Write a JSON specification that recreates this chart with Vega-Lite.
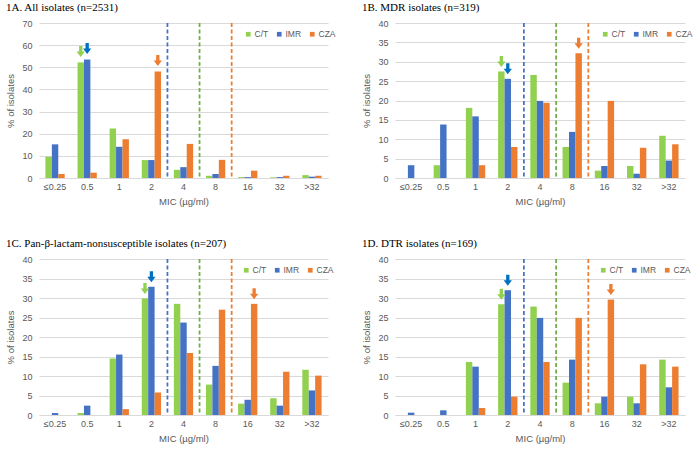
{
  "$schema": "https://vega.github.io/schema/vega-lite/v6.json",
  "background": "white",
  "padding": {"left": 5, "top": 2, "right": 5, "bottom": 2},
  "datasets": {
    "bars": [
      {"panel":"A","mic":"≤0.25","drug":"C/T","pct":9.6},{"panel":"A","mic":"≤0.25","drug":"IMR","pct":15.2},{"panel":"A","mic":"≤0.25","drug":"CZA","pct":1.8},
      {"panel":"A","mic":"0.5","drug":"C/T","pct":52.2},{"panel":"A","mic":"0.5","drug":"IMR","pct":53.5},{"panel":"A","mic":"0.5","drug":"CZA","pct":2.4},
      {"panel":"A","mic":"1","drug":"C/T","pct":22.3},{"panel":"A","mic":"1","drug":"IMR","pct":14.1},{"panel":"A","mic":"1","drug":"CZA","pct":17.5},
      {"panel":"A","mic":"2","drug":"C/T","pct":8.1},{"panel":"A","mic":"2","drug":"IMR","pct":8.1},{"panel":"A","mic":"2","drug":"CZA","pct":48.1},
      {"panel":"A","mic":"4","drug":"C/T","pct":3.7},{"panel":"A","mic":"4","drug":"IMR","pct":4.9},{"panel":"A","mic":"4","drug":"CZA","pct":15.4},
      {"panel":"A","mic":"8","drug":"C/T","pct":1.0},{"panel":"A","mic":"8","drug":"IMR","pct":1.8},{"panel":"A","mic":"8","drug":"CZA","pct":8.2},
      {"panel":"A","mic":"16","drug":"C/T","pct":0.4},{"panel":"A","mic":"16","drug":"IMR","pct":0.4},{"panel":"A","mic":"16","drug":"CZA","pct":3.3},
      {"panel":"A","mic":"32","drug":"C/T","pct":0.3},{"panel":"A","mic":"32","drug":"IMR","pct":0.4},{"panel":"A","mic":"32","drug":"CZA","pct":1.0},
      {"panel":"A","mic":">32","drug":"C/T","pct":1.3},{"panel":"A","mic":">32","drug":"IMR","pct":0.6},{"panel":"A","mic":">32","drug":"CZA","pct":1.0},

      {"panel":"B","mic":"≤0.25","drug":"IMR","pct":3.3},
      {"panel":"B","mic":"0.5","drug":"C/T","pct":3.3},{"panel":"B","mic":"0.5","drug":"IMR","pct":13.8},
      {"panel":"B","mic":"1","drug":"C/T","pct":18.1},{"panel":"B","mic":"1","drug":"IMR","pct":15.9},{"panel":"B","mic":"1","drug":"CZA","pct":3.3},
      {"panel":"B","mic":"2","drug":"C/T","pct":27.5},{"panel":"B","mic":"2","drug":"IMR","pct":25.6},{"panel":"B","mic":"2","drug":"CZA","pct":8.0},
      {"panel":"B","mic":"4","drug":"C/T","pct":26.6},{"panel":"B","mic":"4","drug":"IMR","pct":19.9},{"panel":"B","mic":"4","drug":"CZA","pct":19.4},
      {"panel":"B","mic":"8","drug":"C/T","pct":8.0},{"panel":"B","mic":"8","drug":"IMR","pct":11.9},{"panel":"B","mic":"8","drug":"CZA","pct":32.2},
      {"panel":"B","mic":"16","drug":"C/T","pct":1.9},{"panel":"B","mic":"16","drug":"IMR","pct":3.1},{"panel":"B","mic":"16","drug":"CZA","pct":19.9},
      {"panel":"B","mic":"32","drug":"C/T","pct":3.1},{"panel":"B","mic":"32","drug":"IMR","pct":1.1},{"panel":"B","mic":"32","drug":"CZA","pct":7.8},
      {"panel":"B","mic":">32","drug":"C/T","pct":10.9},{"panel":"B","mic":">32","drug":"IMR","pct":4.5},{"panel":"B","mic":">32","drug":"CZA","pct":8.7},

      {"panel":"C","mic":"≤0.25","drug":"IMR","pct":0.5},
      {"panel":"C","mic":"0.5","drug":"C/T","pct":0.5},{"panel":"C","mic":"0.5","drug":"IMR","pct":2.4},
      {"panel":"C","mic":"1","drug":"C/T","pct":14.5},{"panel":"C","mic":"1","drug":"IMR","pct":15.5},{"panel":"C","mic":"1","drug":"CZA","pct":1.5},
      {"panel":"C","mic":"2","drug":"C/T","pct":29.9},{"panel":"C","mic":"2","drug":"IMR","pct":32.9},{"panel":"C","mic":"2","drug":"CZA","pct":5.8},
      {"panel":"C","mic":"4","drug":"C/T","pct":28.5},{"panel":"C","mic":"4","drug":"IMR","pct":23.7},{"panel":"C","mic":"4","drug":"CZA","pct":15.9},
      {"panel":"C","mic":"8","drug":"C/T","pct":7.8},{"panel":"C","mic":"8","drug":"IMR","pct":12.6},{"panel":"C","mic":"8","drug":"CZA","pct":27.0},
      {"panel":"C","mic":"16","drug":"C/T","pct":2.9},{"panel":"C","mic":"16","drug":"IMR","pct":3.9},{"panel":"C","mic":"16","drug":"CZA","pct":28.5},
      {"panel":"C","mic":"32","drug":"C/T","pct":4.3},{"panel":"C","mic":"32","drug":"IMR","pct":2.4},{"panel":"C","mic":"32","drug":"CZA","pct":11.1},
      {"panel":"C","mic":">32","drug":"C/T","pct":11.6},{"panel":"C","mic":">32","drug":"IMR","pct":6.3},{"panel":"C","mic":">32","drug":"CZA","pct":10.1},

      {"panel":"D","mic":"≤0.25","drug":"IMR","pct":0.6},
      {"panel":"D","mic":"0.5","drug":"IMR","pct":1.2},
      {"panel":"D","mic":"1","drug":"C/T","pct":13.6},{"panel":"D","mic":"1","drug":"IMR","pct":12.4},{"panel":"D","mic":"1","drug":"CZA","pct":1.8},
      {"panel":"D","mic":"2","drug":"C/T","pct":28.4},{"panel":"D","mic":"2","drug":"IMR","pct":32.0},{"panel":"D","mic":"2","drug":"CZA","pct":4.7},
      {"panel":"D","mic":"4","drug":"C/T","pct":27.8},{"panel":"D","mic":"4","drug":"IMR","pct":24.9},{"panel":"D","mic":"4","drug":"CZA","pct":13.6},
      {"panel":"D","mic":"8","drug":"C/T","pct":8.3},{"panel":"D","mic":"8","drug":"IMR","pct":14.2},{"panel":"D","mic":"8","drug":"CZA","pct":24.9},
      {"panel":"D","mic":"16","drug":"C/T","pct":3.0},{"panel":"D","mic":"16","drug":"IMR","pct":4.7},{"panel":"D","mic":"16","drug":"CZA","pct":29.6},
      {"panel":"D","mic":"32","drug":"C/T","pct":4.7},{"panel":"D","mic":"32","drug":"IMR","pct":3.0},{"panel":"D","mic":"32","drug":"CZA","pct":13.0},
      {"panel":"D","mic":">32","drug":"C/T","pct":14.2},{"panel":"D","mic":">32","drug":"IMR","pct":7.1},{"panel":"D","mic":">32","drug":"CZA","pct":12.4}
    ],
    "arrows": [
      {"panel":"A","mic":"0.5","drug":"C/T","pct":52.2},{"panel":"A","mic":"0.5","drug":"IMR","pct":53.5},{"panel":"A","mic":"2","drug":"CZA","pct":48.1},
      {"panel":"B","mic":"2","drug":"C/T","pct":27.5},{"panel":"B","mic":"2","drug":"IMR","pct":25.6},{"panel":"B","mic":"8","drug":"CZA","pct":32.2},
      {"panel":"C","mic":"2","drug":"C/T","pct":29.9},{"panel":"C","mic":"2","drug":"IMR","pct":32.9},{"panel":"C","mic":"16","drug":"CZA","pct":28.5},
      {"panel":"D","mic":"2","drug":"C/T","pct":28.4},{"panel":"D","mic":"2","drug":"IMR","pct":32.0},{"panel":"D","mic":"16","drug":"CZA","pct":29.6}
    ],
    "rules": [
      {"mic":"4","drug":"IMR"},{"mic":"8","drug":"C/T"},{"mic":"16","drug":"CZA"}
    ]
  },
  "columns": 2,
  "spacing": {"row": 32, "column": 25},
  "resolve": {
    "scale": {"x": "independent", "y": "independent", "color": "independent", "stroke": "independent", "fill": "independent", "xOffset": "independent"},
    "legend": {"color": "independent"}
  },
  "concat": [
    {
      "title": {"text": "1A. All isolates (n=2531)"},
      "width": 289, "height": 155,
      "layer": [
        {
          "data": {"name": "bars"},
          "transform": [{"filter": "datum.panel === 'A'"}],
          "mark": {"type": "bar"},
          "encoding": {
            "x": {"field": "mic", "type": "nominal", "sort": null, "scale": {"domain": ["≤0.25","0.5","1","2","4","8","16","32",">32"], "paddingInner": 0, "paddingOuter": 0}, "axis": {"title": "MIC (µg/ml)"}},
            "xOffset": {"field": "drug", "type": "nominal", "scale": {"domain": ["C/T","IMR","CZA"], "paddingInner": 0, "paddingOuter": 1.4}},
            "y": {"field": "pct", "type": "quantitative", "scale": {"domain": [0, 70]}, "axis": {"values": [0,10,20,30,40,50,60,70], "title": "% of isolates"}},
            "color": {"field": "drug", "type": "nominal", "scale": {"domain": ["C/T","IMR","CZA"], "range": ["#92D050","#4472C4","#ED7D31"]}, "legend": {"title": null, "orient": "none", "legendX": 205, "legendY": 7}}
          }
        },
        {
          "data": {"name": "rules"},
          "mark": {"type": "rule", "strokeDash": [4, 2.5], "strokeWidth": 1.75},
          "encoding": {
            "x": {"field": "mic", "type": "nominal", "bandPosition": 0},
            "stroke": {"field": "drug", "type": "nominal", "scale": {"domain": ["C/T","IMR","CZA"], "range": ["#70AD47","#4472C4","#ED7D31"]}, "legend": null}
          }
        },
        {
          "data": {"name": "arrows"},
          "transform": [{"filter": "datum.panel === 'A'"}],
          "mark": {"type": "point", "filled": true, "opacity": 1, "size": 121, "yOffset": -11, "shape": "M-0.3,-1L0.3,-1L0.3,0L0.75,0L0,1L-0.75,0L-0.3,0Z"},
          "encoding": {
            "x": {"field": "mic", "type": "nominal", "axis": {"title": "MIC (µg/ml)"}},
            "xOffset": {"field": "drug", "type": "nominal"},
            "y": {"field": "pct", "type": "quantitative", "axis": {"values": [0,10,20,30,40,50,60,70], "title": "% of isolates"}},
            "fill": {"field": "drug", "type": "nominal", "scale": {"domain": ["C/T","IMR","CZA"], "range": ["#92D050","#0070C0","#ED7D31"]}, "legend": null}
          }
        }
      ]
    },
    {
      "title": {"text": "1B. MDR isolates (n=319)"},
      "width": 290, "height": 155,
      "layer": [
        {
          "data": {"name": "bars"},
          "transform": [{"filter": "datum.panel === 'B'"}],
          "mark": {"type": "bar"},
          "encoding": {
            "x": {"field": "mic", "type": "nominal", "sort": null, "scale": {"domain": ["≤0.25","0.5","1","2","4","8","16","32",">32"], "paddingInner": 0, "paddingOuter": 0}, "axis": {"title": "MIC (µg/ml)"}},
            "xOffset": {"field": "drug", "type": "nominal", "scale": {"domain": ["C/T","IMR","CZA"], "paddingInner": 0, "paddingOuter": 1.4}},
            "y": {"field": "pct", "type": "quantitative", "scale": {"domain": [0, 40]}, "axis": {"values": [0,5,10,15,20,25,30,35,40], "title": "% of isolates"}},
            "color": {"field": "drug", "type": "nominal", "scale": {"domain": ["C/T","IMR","CZA"], "range": ["#92D050","#4472C4","#ED7D31"]}, "legend": {"title": null, "orient": "none", "legendX": 206, "legendY": 7}}
          }
        },
        {
          "data": {"name": "rules"},
          "mark": {"type": "rule", "strokeDash": [4, 2.5], "strokeWidth": 1.75},
          "encoding": {
            "x": {"field": "mic", "type": "nominal", "bandPosition": 0},
            "stroke": {"field": "drug", "type": "nominal", "scale": {"domain": ["C/T","IMR","CZA"], "range": ["#70AD47","#4472C4","#ED7D31"]}, "legend": null}
          }
        },
        {
          "data": {"name": "arrows"},
          "transform": [{"filter": "datum.panel === 'B'"}],
          "mark": {"type": "point", "filled": true, "opacity": 1, "size": 121, "yOffset": -10, "shape": "M-0.3,-1L0.3,-1L0.3,0L0.75,0L0,1L-0.75,0L-0.3,0Z"},
          "encoding": {
            "x": {"field": "mic", "type": "nominal", "axis": {"title": "MIC (µg/ml)"}},
            "xOffset": {"field": "drug", "type": "nominal"},
            "y": {"field": "pct", "type": "quantitative", "axis": {"values": [0,5,10,15,20,25,30,35,40], "title": "% of isolates"}},
            "fill": {"field": "drug", "type": "nominal", "scale": {"domain": ["C/T","IMR","CZA"], "range": ["#92D050","#0070C0","#ED7D31"]}, "legend": null}
          }
        }
      ]
    },
    {
      "title": {"text": "1C. Pan-β-lactam-nonsusceptible isolates (n=207)"},
      "width": 289, "height": 156,
      "layer": [
        {
          "data": {"name": "bars"},
          "transform": [{"filter": "datum.panel === 'C'"}],
          "mark": {"type": "bar"},
          "encoding": {
            "x": {"field": "mic", "type": "nominal", "sort": null, "scale": {"domain": ["≤0.25","0.5","1","2","4","8","16","32",">32"], "paddingInner": 0, "paddingOuter": 0}, "axis": {"title": "MIC (µg/ml)"}},
            "xOffset": {"field": "drug", "type": "nominal", "scale": {"domain": ["C/T","IMR","CZA"], "paddingInner": 0, "paddingOuter": 1.4}},
            "y": {"field": "pct", "type": "quantitative", "scale": {"domain": [0, 40]}, "axis": {"values": [0,5,10,15,20,25,30,35,40], "title": "% of isolates"}},
            "color": {"field": "drug", "type": "nominal", "scale": {"domain": ["C/T","IMR","CZA"], "range": ["#92D050","#4472C4","#ED7D31"]}, "legend": {"title": null, "orient": "none", "legendX": 203, "legendY": 7}}
          }
        },
        {
          "data": {"name": "rules"},
          "mark": {"type": "rule", "strokeDash": [4, 2.5], "strokeWidth": 1.75},
          "encoding": {
            "x": {"field": "mic", "type": "nominal", "bandPosition": 0},
            "stroke": {"field": "drug", "type": "nominal", "scale": {"domain": ["C/T","IMR","CZA"], "range": ["#70AD47","#4472C4","#ED7D31"]}, "legend": null}
          }
        },
        {
          "data": {"name": "arrows"},
          "transform": [{"filter": "datum.panel === 'C'"}],
          "mark": {"type": "point", "filled": true, "opacity": 1, "size": 121, "yOffset": -10, "shape": "M-0.3,-1L0.3,-1L0.3,0L0.75,0L0,1L-0.75,0L-0.3,0Z"},
          "encoding": {
            "x": {"field": "mic", "type": "nominal", "axis": {"title": "MIC (µg/ml)"}},
            "xOffset": {"field": "drug", "type": "nominal"},
            "y": {"field": "pct", "type": "quantitative", "axis": {"values": [0,5,10,15,20,25,30,35,40], "title": "% of isolates"}},
            "fill": {"field": "drug", "type": "nominal", "scale": {"domain": ["C/T","IMR","CZA"], "range": ["#92D050","#0070C0","#ED7D31"]}, "legend": null}
          }
        }
      ]
    },
    {
      "title": {"text": "1D. DTR isolates (n=169)"},
      "width": 290, "height": 156,
      "layer": [
        {
          "data": {"name": "bars"},
          "transform": [{"filter": "datum.panel === 'D'"}],
          "mark": {"type": "bar"},
          "encoding": {
            "x": {"field": "mic", "type": "nominal", "sort": null, "scale": {"domain": ["≤0.25","0.5","1","2","4","8","16","32",">32"], "paddingInner": 0, "paddingOuter": 0}, "axis": {"title": "MIC (µg/ml)"}},
            "xOffset": {"field": "drug", "type": "nominal", "scale": {"domain": ["C/T","IMR","CZA"], "paddingInner": 0, "paddingOuter": 1.4}},
            "y": {"field": "pct", "type": "quantitative", "scale": {"domain": [0, 40]}, "axis": {"values": [0,5,10,15,20,25,30,35,40], "title": "% of isolates"}},
            "color": {"field": "drug", "type": "nominal", "scale": {"domain": ["C/T","IMR","CZA"], "range": ["#92D050","#4472C4","#ED7D31"]}, "legend": {"title": null, "orient": "none", "legendX": 204, "legendY": 7}}
          }
        },
        {
          "data": {"name": "rules"},
          "mark": {"type": "rule", "strokeDash": [4, 2.5], "strokeWidth": 1.75},
          "encoding": {
            "x": {"field": "mic", "type": "nominal", "bandPosition": 0},
            "stroke": {"field": "drug", "type": "nominal", "scale": {"domain": ["C/T","IMR","CZA"], "range": ["#70AD47","#4472C4","#ED7D31"]}, "legend": null}
          }
        },
        {
          "data": {"name": "arrows"},
          "transform": [{"filter": "datum.panel === 'D'"}],
          "mark": {"type": "point", "filled": true, "opacity": 1, "size": 121, "yOffset": -10, "shape": "M-0.3,-1L0.3,-1L0.3,0L0.75,0L0,1L-0.75,0L-0.3,0Z"},
          "encoding": {
            "x": {"field": "mic", "type": "nominal", "axis": {"title": "MIC (µg/ml)"}},
            "xOffset": {"field": "drug", "type": "nominal"},
            "y": {"field": "pct", "type": "quantitative", "axis": {"values": [0,5,10,15,20,25,30,35,40], "title": "% of isolates"}},
            "fill": {"field": "drug", "type": "nominal", "scale": {"domain": ["C/T","IMR","CZA"], "range": ["#92D050","#0070C0","#ED7D31"]}, "legend": null}
          }
        }
      ]
    }
  ],
  "config": {
    "view": {"stroke": null},
    "font": "Liberation Sans",
    "title": {"font": "Liberation Serif", "fontSize": 11, "fontWeight": "normal", "color": "#000000", "anchor": "start", "offset": 6},
    "axis": {"labelFont": "Liberation Sans", "titleFont": "Liberation Sans", "labelColor": "#595959", "titleColor": "#595959", "labelFontSize": 9, "titleFontSize": 9.5, "titleFontWeight": "normal", "ticks": false, "gridColor": "#D9D9D9", "domainColor": "#D9D9D9", "labelOverlap": false},
    "axisY": {"domain": false, "labelPadding": 7, "titlePadding": 6},
    "axisX": {"grid": false, "labelAngle": 0, "labelPadding": 4, "titlePadding": 5},
    "legend": {"direction": "horizontal", "symbolType": "square", "symbolSize": 22, "symbolStrokeWidth": 0, "labelFont": "Liberation Sans", "labelFontSize": 8.5, "labelColor": "#595959", "labelOffset": 2, "columnPadding": 6, "gridAlign": "none", "padding": 0}
  }
}
